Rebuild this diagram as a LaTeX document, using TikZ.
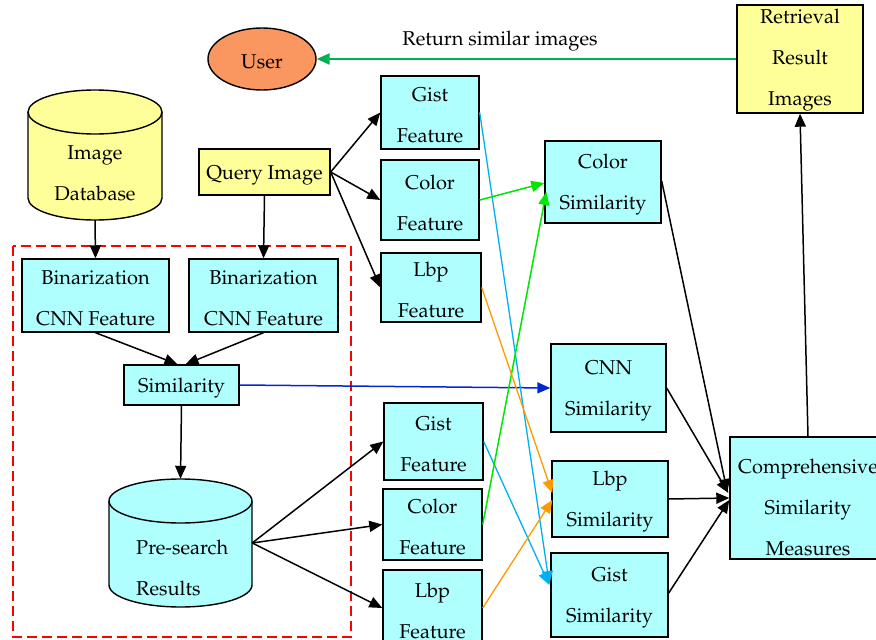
\documentclass[tikz,border=0pt]{standalone}
\usepackage[T1]{fontenc}
\usepackage{mathpazo}
\usetikzlibrary{arrows.meta,calc,shapes.geometric}
\definecolor{cyanfill}{RGB}{175,255,255}
\definecolor{yelfill}{RGB}{255,255,153}
\definecolor{userfill}{RGB}{250,150,95}
\definecolor{retgreen}{RGB}{0,176,80}
\definecolor{cgreen}{RGB}{0,230,0}
\definecolor{cblue}{RGB}{0,40,210}
\definecolor{ccyan}{RGB}{0,176,240}
\definecolor{corange}{RGB}{255,153,0}
\definecolor{dashred}{RGB}{255,0,0}
\newcommand\mystrut{\rule{0pt}{20pt}}
\begin{document}
\begin{tikzpicture}[x=1pt,y=1pt,
  every node/.style={font=\fontsize{20}{41}\selectfont, inner sep=0pt, align=center},
  box/.style={draw=black, line width=1.4pt, fill=cyanfill},
  ybox/.style={draw=black, line width=1.4pt, fill=yelfill},
  cyl/.style={draw=black, line width=1.4pt},
  arr/.style={-{Triangle[length=13pt,width=11pt]}, line width=1.5pt},
  carr/.style={-{Triangle[length=13pt,width=11pt]}, line width=1.3pt}]
\useasboundingbox (0,0) rectangle (876,-640);

% dashed region
\draw[dashred, line width=1.8pt, dash pattern=on 10pt off 5pt] (13,-246) rectangle (351,-637);

% User and retrieval
\node[ellipse, draw, line width=1.4pt, fill=userfill, minimum width=108, minimum height=62] (user) at (262,-59) {\mystrut User};
\node (rt) at (500,-41) {Return similar images};
\node[ybox, minimum width=126, minimum height=108] (ret) at (800,-59) {};
\node (rettxt) at (800,-60.5) {Retrieval\\Result\\Images};

% Image database cylinder
\node[minimum width=134, minimum height=130] (db) at (95,-155) {};
\filldraw[cyl, fill=yelfill] (28,-112) -- (28,-198) arc[start angle=180,end angle=360,x radius=67,y radius=22] -- (162,-112) arc[start angle=0,end angle=180,x radius=67,y radius=22] -- cycle;
\draw[cyl] (28,-112) arc[start angle=180,end angle=360,x radius=67,y radius=22];
\node (dbtxt) at (95,-173.5) {Image\\Database};

% Query image
\node[ybox, minimum width=131, minimum height=46] (q) at (264.5,-172) {\mystrut Query Image};

% top feature boxes
\node[box, minimum width=98, minimum height=73] (g1) at (430,-112.5) {\mystrut Gist\\Feature};
\node[box, minimum width=98, minimum height=80] (c1) at (430,-200) {\mystrut Color\\Feature};
\node[box, minimum width=100, minimum height=69] (l1) at (431,-287.5) {\mystrut Lbp\\Feature};

% similarity boxes
\node[box, minimum width=116, minimum height=82] (cs) at (603,-182) {\mystrut Color\\Similarity};
\node[box, minimum width=115, minimum height=88] (cnn) at (608.5,-388) {\mystrut CNN\\Similarity};
\node[box, minimum width=116, minimum height=76] (ls) at (610,-499) {\mystrut Lbp\\Similarity};
\node[box, minimum width=117, minimum height=84] (gs) at (609.5,-595) {\mystrut Gist\\Similarity};
\node[box, minimum width=156, minimum height=122] (comp) at (808,-498) {};
\node (comptxt) at (808,-507) {Comprehensive\\Similarity\\Measures};

% binarization
\node[box, minimum width=147, minimum height=73] (b1) at (95.5,-295.5) {\mystrut Binarization\\CNN Feature};
\node[box, minimum width=149, minimum height=73] (b2) at (263.5,-295.5) {\mystrut Binarization\\CNN Feature};
\node[box, minimum width=115, minimum height=40] (sim) at (181.5,-385) {\mystrut Similarity};

% pre-search cylinder
\node[minimum width=143, minimum height=128] (pre) at (180.5,-543) {};
\filldraw[cyl, fill=cyanfill] (109,-501) -- (109,-585) arc[start angle=180,end angle=360,x radius=71.5,y radius=22] -- (252,-501) arc[start angle=0,end angle=180,x radius=71.5,y radius=22] -- cycle;
\draw[cyl] (109,-501) arc[start angle=180,end angle=360,x radius=71.5,y radius=22];
\node[align=left, anchor=west] (pretxt) at (136,-568) {Pre-search\\Results};

% lower feature boxes
\node[box, minimum width=99, minimum height=77] (g2) at (433.5,-441.5) {\mystrut Gist\\Feature};
\node[box, minimum width=99, minimum height=71] (c2) at (432.5,-524.5) {\mystrut Color\\Feature};
\node[box, minimum width=99, minimum height=76] (l2) at (432.5,-608) {\mystrut Lbp\\Feature};

% black arrows
\draw[arr] (db.south) -- (b1.north);
\draw[arr] (q.south) -- (b2.north);
\draw[arr] (b1.south) -- ($(sim.north)+(-4,0)$);
\draw[arr] (b2.south) -- ($(sim.north)+(4,0)$);
\draw[arr] (sim.south) -- (pre.north);
\draw[arr] (q.east) -- (g1.west);
\draw[arr] (q.east) -- (c1.west);
\draw[arr] (q.east) -- (l1.west);
\draw[arr] (pre.east) -- (g2.west);
\draw[arr] (pre.east) -- (c2.west);
\draw[arr] (pre.east) -- (l2.west);
\draw[arr] ($(cs.east)+(0,1)$) -- ($(comp.west)+(-2,6)$);
\draw[arr] (cnn.east) -- ($(comp.west)+(-1,5)$);
\draw[arr] (ls.east) -- (comp.west);
\draw[arr] ($(gs.east)+(0,2)$) -- ($(comp.west)+(0,-2)$);
\draw[arr] (comp.north) -- (ret.south);

% colored arrows
\draw[arr, retgreen, line width=2.2pt] (ret.west) -- (user.east);
\draw[carr, cblue, line width=1.5pt] (sim.east) -- (cnn.west);
\draw[carr, ccyan] (g1.east) -- ($(gs.west)+(-1,11)$);
\draw[carr, ccyan] (g2.east) -- ($(gs.west)+(-1,10)$);
\draw[carr, cgreen, line width=1.5pt] (c1.east) -- ($(cs.west)+(0,-1)$);
\draw[carr, cgreen, line width=1.5pt] (c2.east) -- ($(cs.west)+(2,-10)$);
\draw[carr, corange] (l1.east) -- ($(ls.west)+(1,6)$);
\draw[carr, corange] (l2.east) -- ($(ls.west)+(1,-1)$);
\end{tikzpicture}
\end{document}
